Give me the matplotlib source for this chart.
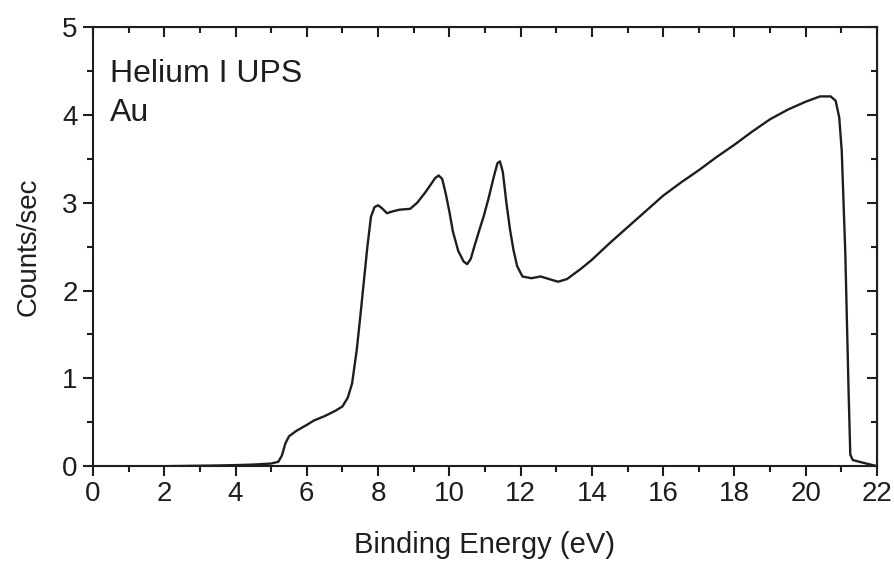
import matplotlib.pyplot as plt
from matplotlib.ticker import MultipleLocator

plt.rcParams['font.family'] = ['Liberation Sans', 'DejaVu Sans']

# binding energy (eV) and counts/sec
energy = [0, 1, 2, 3, 3.5, 4, 4.5, 5.0, 5.2, 5.3, 5.4, 5.5, 5.7, 6.0, 6.2, 6.5,
          6.8, 7.0, 7.15, 7.27, 7.4, 7.5, 7.6, 7.7, 7.8, 7.9, 8.0, 8.1, 8.25,
          8.4, 8.6, 8.9, 9.1, 9.33, 9.5, 9.6, 9.7, 9.8, 9.9, 10.0, 10.1, 10.25,
          10.4, 10.5, 10.6, 10.7, 10.85, 10.96, 11.1, 11.25, 11.35, 11.42, 11.5,
          11.6, 11.7, 11.8, 11.9, 12.05, 12.3, 12.56, 12.8, 13.05, 13.3, 13.7,
          14.0, 14.5, 15.0, 15.5, 16.0, 16.5, 17.0, 17.5, 18.0, 18.5, 19.0,
          19.5, 20.0, 20.4, 20.7, 20.84, 20.94, 21.01, 21.11, 21.2, 21.25,
          21.32, 21.5, 21.8, 22.0]
counts = [0, 0, 0, 0.005, 0.008, 0.012, 0.018, 0.03, 0.05, 0.12, 0.26, 0.34,
          0.40, 0.47, 0.52, 0.57, 0.63, 0.68, 0.78, 0.94, 1.32, 1.7, 2.1, 2.5,
          2.84, 2.95, 2.97, 2.94, 2.88, 2.9, 2.92, 2.93, 3.0, 3.12, 3.22, 3.28,
          3.31, 3.27, 3.1, 2.9, 2.67, 2.45, 2.33, 2.30, 2.36, 2.5, 2.7, 2.84,
          3.05, 3.3, 3.45, 3.47, 3.35, 3.0, 2.7, 2.46, 2.28, 2.16, 2.14, 2.16,
          2.13, 2.10, 2.13, 2.25, 2.35, 2.54, 2.72, 2.9, 3.08, 3.23, 3.37, 3.52,
          3.66, 3.81, 3.95, 4.06, 4.15, 4.21, 4.21, 4.16, 3.97, 3.59, 2.43,
          0.89, 0.13, 0.07, 0.05, 0.02, 0.0]

ink = '#1e1e1e'

fig = plt.figure(figsize=(8.94, 5.63), dpi=100)
ax = fig.add_axes([0.104, 0.172, 0.877, 0.78])
ax.plot(energy, counts, color=ink, linewidth=1.7, solid_joinstyle='round')

ax.set_xlim(0, 22)
ax.set_ylim(0, 5)
ax.xaxis.set_major_locator(MultipleLocator(2))
ax.xaxis.set_minor_locator(MultipleLocator(1))
ax.yaxis.set_major_locator(MultipleLocator(1))
ax.yaxis.set_minor_locator(MultipleLocator(0.5))

for s in ax.spines.values():
    s.set_linewidth(1.5)
    s.set_color(ink)

ax.tick_params(which='major', direction='out', length=7, width=1.5, pad=4,
               labelsize=20, color=ink, labelcolor=ink)
ax.tick_params(which='minor', direction='out', length=4, width=1.5, color=ink)

top = ax.secondary_xaxis('top')
top.xaxis.set_major_locator(MultipleLocator(2))
top.xaxis.set_minor_locator(MultipleLocator(1))
top.tick_params(which='major', direction='in', length=7, width=1.5,
                labeltop=False, color=ink)
top.tick_params(which='minor', direction='in', length=4, width=1.5, color=ink)
right = ax.secondary_yaxis('right')
right.yaxis.set_major_locator(MultipleLocator(1))
right.yaxis.set_minor_locator(MultipleLocator(0.5))
right.tick_params(which='major', direction='in', length=7, width=1.5,
                  labelright=False, color=ink)
right.tick_params(which='minor', direction='in', length=4, width=1.5, color=ink)

ax.set_xlabel('Binding Energy (eV)', fontsize=21, color=ink, labelpad=17)
ax.set_ylabel('Counts/sec', fontsize=20, color=ink, labelpad=15)

ax.text(0.022, 0.875, 'Helium I UPS', transform=ax.transAxes, fontsize=23,
        color=ink, va='baseline')
ax.text(0.022, 0.786, 'Au', transform=ax.transAxes, fontsize=23,
        color=ink, va='baseline')

fig.savefig('out.png', dpi=100)
